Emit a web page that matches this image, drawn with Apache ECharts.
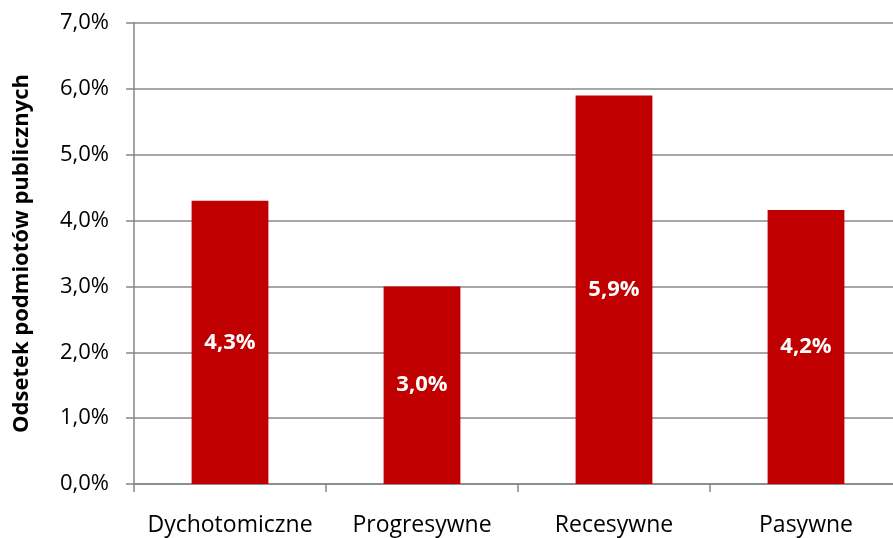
<!DOCTYPE html>
<html>
<head>
<meta charset="utf-8">
<script src="https://cdn.jsdelivr.net/npm/echarts@6/dist/echarts.min.js"></script>
<style>
  html, body { margin: 0; padding: 0; background: #fff; }
  #chart { width: 893px; height: 538px; }
</style>
</head>
<body>
<div id="chart"></div>
<script>
// chart data
var categories = ["Dychotomiczne", "Progresywne", "Recesywne", "Pasywne"];
var values = [4.3, 3.0, 5.9, 4.16];
var yTicks = [0, 1, 2, 3, 4, 5, 6, 7];

var myChart = echarts.init(document.getElementById("chart"));
var fontFam = "'Open Sans', 'Noto Sans', sans-serif";

function pct(v) {
  return v.toFixed(1).replace(".", ",") + "%";
}

var option = {
  animation: false,
  grid: { left: 134, top: 23, width: 768, height: 461, outerBoundsMode: "none" },
  xAxis: {
    type: "category",
    data: categories,
    axisLine: { lineStyle: { color: "#868686", width: 1.5 } },
    axisTick: { show: true, length: 8, lineStyle: { color: "#868686", width: 1.5 } },
    axisLabel: { color: "#000", fontSize: 23, fontFamily: fontFam, margin: 30, interval: 0 }
  },
  yAxis: {
    type: "value",
    min: yTicks[0],
    max: yTicks[yTicks.length - 1],
    interval: 1,
    name: "Odsetek podmiotów publicznych",
    nameLocation: "middle",
    nameGap: 101,
    nameTextStyle: { color: "#000", fontSize: 22, fontWeight: "bold", fontFamily: fontFam },
    axisLine: { show: true, lineStyle: { color: "#868686", width: 1.5 } },
    axisTick: { show: true, length: 8, lineStyle: { color: "#868686", width: 1.5 } },
    axisLabel: {
      color: "#000",
      fontSize: 22,
      fontFamily: fontFam,
      margin: 25,
      formatter: function (v) { return pct(v); }
    },
    splitLine: { lineStyle: { color: "#8a8a8a", width: 1.5 } }
  },
  series: [
    {
      type: "bar",
      data: values,
      barWidth: "40%",
      itemStyle: { color: "#C00000" },
      label: {
        show: true,
        position: "inside",
        color: "#fff",
        fontWeight: "bold",
        fontSize: 22,
        fontFamily: fontFam,
        formatter: function (p) { return pct(p.value); }
      }
    }
  ]
};

myChart.setOption(option);
</script>
</body>
</html>
